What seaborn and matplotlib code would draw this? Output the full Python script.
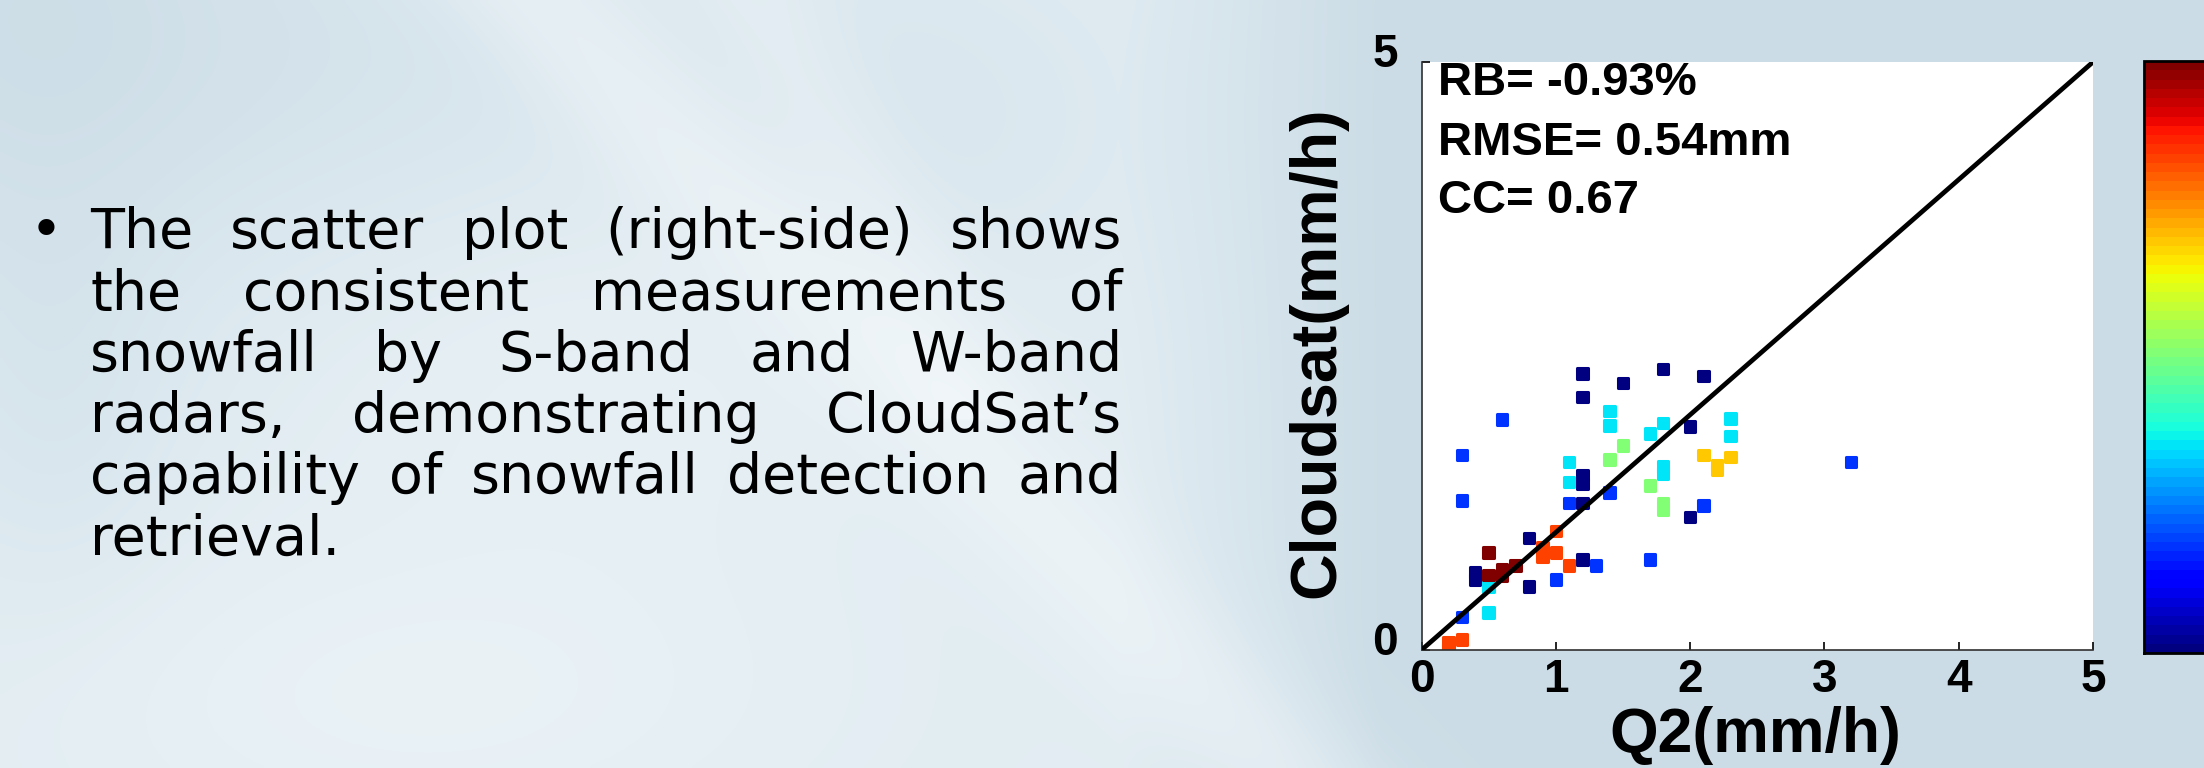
import numpy as np
import pandas as pd
import matplotlib
matplotlib.use("Agg")
import matplotlib as mpl
import matplotlib.pyplot as plt
import seaborn as sns
from matplotlib.transforms import ScaledTranslation

# ---------------- data ----------------
q2 = [1.2, 1.2, 1.5, 1.8, 2.1, 2.0, 1.2, 1.2, 1.2, 2.0, 0.8, 0.4, 0.4, 0.8, 1.2,
      0.6, 0.3, 0.3, 1.4, 2.1, 1.1, 1.0, 1.3, 1.7, 3.2, 0.3,
      1.4, 1.4, 2.3, 2.3, 1.8, 1.7, 1.1, 1.1, 1.8, 1.8, 0.5, 0.5,
      1.5, 1.4, 1.7, 1.8, 1.8,
      2.1, 2.2, 2.2, 2.3,
      1.0, 0.9, 0.9, 1.0, 1.1, 0.2, 0.2, 0.3,
      0.5, 0.5, 0.6, 0.6, 0.7]
cloudsat = [2.35, 2.15, 2.27, 2.39, 2.33, 1.90, 1.49, 1.41, 1.25, 1.13, 0.95, 0.66, 0.60, 0.54, 0.77,
            1.96, 1.66, 1.27, 1.34, 1.23, 1.25, 0.60, 0.72, 0.77, 1.60, 0.28,
            2.03, 1.91, 1.97, 1.82, 1.93, 1.84, 1.60, 1.43, 1.56, 1.50, 0.54, 0.32,
            1.74, 1.62, 1.40, 1.25, 1.19,
            1.66, 1.57, 1.53, 1.64,
            1.01, 0.87, 0.79, 0.83, 0.72, 0.07, 0.01, 0.09,
            0.83, 0.64, 0.69, 0.63, 0.72]
color_value = ([0.015] * 15 + [0.173] * 11 + [0.345] * 12 + [0.501] * 5 +
               [0.69] * 4 + [0.84] * 8 + [0.997] * 5)
one_to_one = [0, 5]
x_ticks = [0, 1, 2, 3, 4, 5]
y_ticks = [0, 5]
cbar_ticks = [0.015, 0.173, 0.501, 0.671, 0.997]
stats_lines = ["RB= -0.93%", "RMSE= 0.54mm", "CC= 0.67"]
x_label = "Q2(mm/h)"
y_label = "Cloudsat(mm/h)"
bullet_lines = [
    "The scatter plot (right-side) shows",
    "the consistent measurements of",
    "snowfall by S-band and W-band",
    "radars, demonstrating CloudSat\u2019s",
    "capability of snowfall detection and",
    "retrieval.",
]

# ---------------- setup ----------------
sns.set_theme(style="white")
plt.rcParams['font.family'] = ['Liberation Sans', 'DejaVu Sans']

W, H, DPI = 2204, 768, 100
fig = plt.figure(figsize=(W / DPI, H / DPI), dpi=DPI)


def fx(px):
    return px / W


def fy(py):
    return 1 - py / H


# ---------------- background ----------------
bg = fig.add_axes([0, 0, 1, 1], zorder=-10)
bh, bw = 192, 551
gy, gx = np.mgrid[0:bh, 0:bw].astype(float)
PX = gx / (bw - 1) * W
PY = gy / (bh - 1) * H
light = np.array([0.885, 0.928, 0.950])
blue = np.array([0.800, 0.866, 0.905])
t = np.clip((PX - 1120) / 260, 0, 1)
t = t + 0.8 * np.exp(-((PX / 260) ** 2 + (PY / 340) ** 2))
t = t + 0.45 * np.exp(-(((PX - 380) / 300) ** 2 + ((PY - 60) / 220) ** 2))
t = t + 0.35 * np.exp(-(((PX - 900) / 260) ** 2 + ((PY - 120) / 200) ** 2))
t = t + 0.30 * np.exp(-(((PX - 60) / 120) ** 2 + ((PY - 420) / 200) ** 2))
t = np.clip(t, 0, 1)
img = light[None, None, :] * (1 - t[..., None]) + blue[None, None, :] * t[..., None]
d1 = np.abs((PX - 540) * 768 - PY * 740) / np.hypot(768, 740)
d2 = np.abs((PX - 760) * 768 - PY * 420) / np.hypot(768, 420)
s = 0.40 * np.exp(-(d1 / 70) ** 2) + 0.25 * np.exp(-(d2 / 60) ** 2) * (PY < 420)
s = s + 0.35 * np.exp(-(((PX - 420) / 380) ** 2 + ((PY - 700) / 160) ** 2))
s = s + 0.25 * np.exp(-(((PX - 600) / 300) ** 2 + ((PY - 380) / 200) ** 2))
s = np.clip(s, 0, 0.7)
img = img * (1 - s[..., None]) + np.array([0.97, 0.982, 0.988])[None, None, :] * s[..., None]
bg.imshow(img, extent=[0, 1, 0, 1], aspect='auto', interpolation='bilinear')
bg.set_xlim(0, 1)
bg.set_ylim(0, 1)
bg.axis('off')

# ---------------- scatter axes ----------------
ax = fig.add_axes([fx(1421.5), fy(650), (2093 - 1421.5) / W, (650 - 62) / H])
ax.set_facecolor('white')
cmap = mpl.colormaps['jet'].resampled(64)
df = pd.DataFrame({'Q2': q2, 'CloudSat': cloudsat, 'c': color_value})
sns.scatterplot(data=df, x='Q2', y='CloudSat', hue='c', palette=cmap, hue_norm=(0, 1),
                legend=False, marker='s', s=56, edgecolor='face', linewidth=2.2,
                ax=ax, zorder=2)
for coll in ax.collections:
    coll.set_joinstyle('round')
sns.lineplot(x=one_to_one, y=one_to_one, color='black', linewidth=3.4, ax=ax, zorder=3)

ax.set_xlim(0, 5)
ax.set_ylim(0, 5)
ax.set_xticks(x_ticks)
ax.set_yticks(y_ticks)
ax.set_xticklabels([str(v) for v in x_ticks])
ax.set_yticklabels([str(v) for v in y_ticks])
ax.tick_params(direction='in', length=6, width=1.2, colors='black', labelsize=33)
ax.tick_params(axis='x', pad=6, bottom=True)
ax.tick_params(axis='y', pad=17, left=True)
for lbl in ax.get_xticklabels() + ax.get_yticklabels():
    lbl.set_fontweight('bold')
offset = ScaledTranslation(0, 12 / DPI, fig.dpi_scale_trans)
for lbl in ax.get_yticklabels():
    lbl.set_transform(lbl.get_transform() + offset)
for sp in ['top', 'right']:
    ax.spines[sp].set_visible(False)
for sp in ['left', 'bottom']:
    ax.spines[sp].set_color('#303030')
    ax.spines[sp].set_linewidth(1.2)

ax.set_xlabel(x_label, fontsize=45, fontweight='bold', color='black')
ax.xaxis.label.set_verticalalignment('baseline')
ax.xaxis.set_label_coords((1755 - 1421.5) / 671.5, (650 - 752) / 588)
ax.set_ylabel(y_label, fontsize=46.5, fontweight='bold', color='black')
ax.yaxis.label.set_verticalalignment('baseline')
ax.yaxis.set_label_coords((1334 - 1421.5) / 671.5, (650 - 352) / 588)

for line, base_py in zip(stats_lines, [95.3, 155.4, 212.6]):
    ax.text((1438 - 1421.5) / 671.5, (650 - base_py) / 588, line, transform=ax.transAxes,
            fontsize=34, fontweight='bold', color='black', va='baseline', ha='left', zorder=4)

# ---------------- colorbar ----------------
cax = fig.add_axes([fx(2144), fy(653), 66 / W, 592 / H])
sm = mpl.cm.ScalarMappable(norm=mpl.colors.Normalize(0, 1), cmap=cmap)
cb = fig.colorbar(sm, cax=cax, ticks=cbar_ticks)
cb.outline.set_linewidth(2)
cb.outline.set_edgecolor('black')
cax.tick_params(axis='y', direction='in', left=True, right=True, labelleft=False,
                labelright=False, length=7, width=1.5, color='black')

# ---------------- justified bullet text ----------------
renderer = fig.canvas.get_renderer()
L, R = 90, 1122
base0, step = 248, 61.3
fsize = 40
body_font = ['DejaVu Sans']
for i, line in enumerate(bullet_lines):
    base = base0 + i * step
    words = line.split()
    texts = [fig.text(0, fy(base), w_, fontsize=fsize, family=body_font, color='black',
                      va='baseline', ha='left') for w_ in words]
    widths = [t_.get_window_extent(renderer).width for t_ in texts]
    if i < len(bullet_lines) - 1 and len(words) > 1:
        gap = (R - L - sum(widths)) / (len(words) - 1)
    else:
        gap = fsize * DPI / 72 * 0.318
    xpos = L
    for t_, wd in zip(texts, widths):
        t_.set_x(fx(xpos))
        xpos += wd + gap
fig.text(fx(30), fy(base0), "\u2022", fontsize=fsize, family=body_font, color='black',
         va='baseline', ha='left')

fig.savefig("out.png", dpi=DPI)
